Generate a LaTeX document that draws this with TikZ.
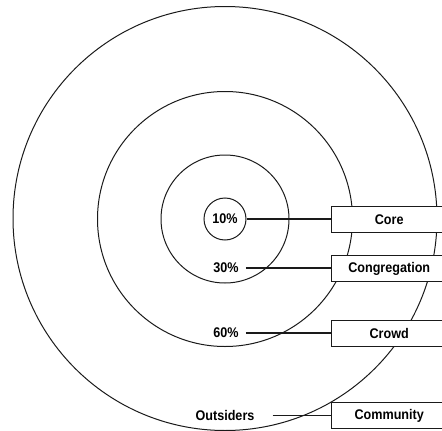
\documentclass[tikz,border=0pt]{standalone}
\usepackage{fontspec}
\usepackage{tikz}
\usepackage{xcolor}
\usetikzlibrary{positioning,calc}
\setmainfont{Liberation Sans}[BoldFeatures={FakeStretch=0.9}]
\definecolor{ink}{HTML}{1A1A1A}
\tikzset{
  ring/.style={draw=ink, line width=1pt},
  tagbox/.style={
    draw=ink, fill=white, line width=1.4pt,
    minimum width=115pt, minimum height=26pt, inner sep=0pt,
    anchor=west, font=\fontsize{14}{16}\selectfont\bfseries
  },
  pctlabel/.style={
    inner sep=0pt, font=\fontsize{14}{16}\selectfont\bfseries
  },
  leader/.style={draw=ink, line width=1.1pt}
}

\begin{document}
\begin{tikzpicture}[x=1pt,y=-1pt]
  \useasboundingbox (0,0) rectangle (442,431);

  % rings, outermost first
  \draw[ring] (225,218.5) circle (212);
  \draw[ring] (225,219) circle (127.5);
  \draw[ring] (225,219) circle (64);
  \node[ring, circle, minimum size=42pt, inner sep=0pt,
        font=\fontsize{14}{16}\selectfont\bfseries] (ringcore) at (225,219) {10\%};

  % percentage labels
  \node[pctlabel] (pct30) at (226,268) {30\%};
  \node[pctlabel] (pct60) at (226,333) {60\%};
  \node[pctlabel] (outsiders) at (225,415.5) {Outsiders};

  % tag boxes on the right
  \node[tagbox] (core) at (331,219.5) {Core};
  \node[tagbox] (congregation) at (331,268.5) {Congregation};
  \node[tagbox] (crowd) at (331,333.5) {Crowd};
  \node[tagbox] (community) at (331,415.5) {Community};

  % leaders
  \draw[leader] (ringcore.east) -- (ringcore.east -| core.west);
  \draw[leader, shorten <=7pt] (pct30.east) -- (pct30.east -| congregation.west);
  \draw[leader, shorten <=7pt] (pct60.east) -- (pct60.east -| crowd.west);
  \draw[leader, shorten <=18pt] (outsiders.east) -- (outsiders.east -| community.west);
\end{tikzpicture}
\end{document}
